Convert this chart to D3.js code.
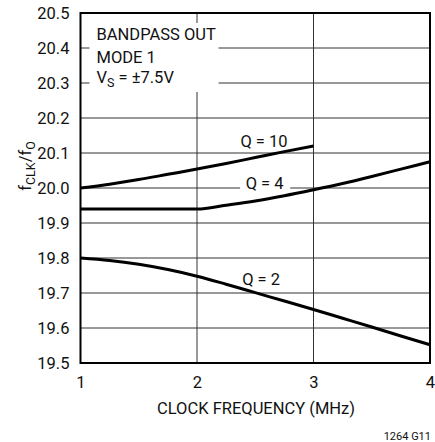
<!DOCTYPE html>
<html>
<head>
<meta charset="utf-8">
<script src="https://cdn.jsdelivr.net/npm/d3@7"></script>
<style>
body { margin: 0; background: #fff; }
text { font-family: Roboto, "Liberation Sans", sans-serif; fill: #111; }
</style>
</head>
<body>
<div class="canvas"></div>
<script>
// data
var xTicks = [1, 2, 3, 4],
    yTicks = [19.5, 19.6, 19.7, 19.8, 19.9, 20.0, 20.1, 20.2, 20.3, 20.4, 20.5];

var q10Freq = [1, 1.25, 1.5, 1.75, 2, 2.25, 2.5, 2.75, 3],
    q10Ratio = [20.0, 20.011, 20.024, 20.039, 20.054, 20.07, 20.087, 20.104, 20.12];

var q4Freq = [1, 1.5, 2, 2.25, 2.5, 2.75, 3, 3.25, 3.5, 3.75, 4],
    q4Ratio = [19.94, 19.94, 19.94, 19.951, 19.963, 19.978, 19.995, 20.013, 20.033, 20.054, 20.075];

var q2Freq = [1, 1.25, 1.5, 1.75, 2, 2.25, 2.5, 2.75, 3, 3.25, 3.5, 3.75, 4],
    q2Ratio = [19.80, 19.793, 19.782, 19.767, 19.748, 19.725, 19.701, 19.677, 19.653, 19.628, 19.603, 19.577, 19.552];

// where does it live
var W = 435, H = 442,
    margin = {top: 13, left: 80.5},
    width = 430 - margin.left,
    height = 363 - margin.top,
    fs = 16.5;

var svg = d3.select('.canvas').append('svg')
    .attr('width', W)
    .attr('height', H);

var g = svg.append('g')
    .attr('transform', 'translate(' + margin.left + ',' + margin.top + ')');

var x = d3.scaleLinear().domain([1, 4]).range([0, width]),
    y = d3.scaleLinear().domain([19.5, 20.5]).range([height, 0]);

// grid
g.append('g').selectAll('line')
    .data(xTicks.slice(1, -1))
    .enter().append('line')
    .attr('x1', function (d) { return x(d); })
    .attr('x2', function (d) { return x(d); })
    .attr('y1', 0).attr('y2', height)
    .attr('stroke', '#333').attr('stroke-width', 1);

g.append('g').selectAll('line')
    .data(yTicks.slice(1, -1))
    .enter().append('line')
    .attr('x1', 0).attr('x2', width)
    .attr('y1', function (d) { return y(d); })
    .attr('y2', function (d) { return y(d); })
    .attr('stroke', '#333').attr('stroke-width', 1);

// white patches behind the notes
g.append('rect')
    .attr('x', 9).attr('y', 10)
    .attr('width', 129).attr('height', 69)
    .attr('fill', '#fff');
g.append('rect')
    .attr('x', x(2.37)).attr('y', y(20.0) - 8)
    .attr('width', x(2.8) - x(2.37)).attr('height', 14)
    .attr('fill', '#fff');

// frame
g.append('rect')
    .attr('x', 0).attr('y', 0)
    .attr('width', width).attr('height', height)
    .attr('fill', 'none').attr('stroke', '#000').attr('stroke-width', 2);

// curves
var line = d3.line()
    .x(function (d) { return x(d[0]); })
    .y(function (d) { return y(d[1]); })
    .curve(d3.curveMonotoneX);

[[q10Freq, q10Ratio], [q4Freq, q4Ratio], [q2Freq, q2Ratio]].forEach(function (s) {
    g.append('path')
        .datum(d3.zip(s[0], s[1]))
        .attr('d', line)
        .attr('fill', 'none')
        .attr('stroke', '#000')
        .attr('stroke-width', 3);
});

// curve labels
var qLabels = [
    {t: 'Q = 10', f: 2.575, v: 20.117},
    {t: 'Q = 4', f: 2.58, v: 19.997},
    {t: 'Q = 2', f: 2.55, v: 19.723}
];
g.selectAll('text.q')
    .data(qLabels)
    .enter().append('text')
    .attr('x', function (d) { return x(d.f); })
    .attr('y', function (d) { return y(d.v); })
    .attr('text-anchor', 'middle')
    .attr('font-size', fs)
    .text(function (d) { return d.t; });

// note box
var note = g.append('text').attr('font-size', fs);
note.append('tspan').attr('x', 16).attr('y', 27).text('BANDPASS OUT');
note.append('tspan').attr('x', 16).attr('y', 50).text('MODE 1');
var vs = g.append('text').attr('font-size', fs).attr('x', 16).attr('y', 70);
vs.append('tspan').text('V');
vs.append('tspan').attr('font-size', 12.5).attr('dy', 4).text('S');
vs.append('tspan').attr('dy', -4).text(' = ±7.5V');

// axes
var yAxis = d3.axisLeft(y).tickValues(yTicks).tickSize(0).tickPadding(11)
    .tickFormat(d3.format('.1f'));
var yg = g.append('g').call(yAxis);
yg.select('.domain').remove();
yg.selectAll('text').attr('font-size', fs).attr('font-family', null).attr('dy', '0.35em');

var xAxis = d3.axisBottom(x).tickValues(xTicks).tickSize(0).tickPadding(0)
    .tickFormat(d3.format('d'));
var xg = g.append('g').attr('transform', 'translate(0,' + height + ')').call(xAxis);
xg.select('.domain').remove();
xg.selectAll('text').attr('font-size', fs).attr('font-family', null).attr('y', 25).attr('dy', null);

// axis titles
svg.append('text')
    .attr('x', 256).attr('y', 414)
    .attr('text-anchor', 'middle')
    .attr('font-size', fs)
    .text('CLOCK FREQUENCY (MHz)');

var yt = svg.append('text')
    .attr('transform', 'translate(31,166) rotate(-90)')
    .attr('text-anchor', 'middle')
    .attr('font-size', fs);
yt.append('tspan').text('f');
yt.append('tspan').attr('font-size', 12.5).attr('dy', 4).text('CLK');
yt.append('tspan').attr('dy', -4).text('/f');
yt.append('tspan').attr('font-size', 12.5).attr('dy', 4).text('O');

svg.append('text')
    .attr('x', 431).attr('y', 440)
    .attr('text-anchor', 'end')
    .attr('font-size', 11)
    .text('1264 G11');
</script>
</body>
</html>
